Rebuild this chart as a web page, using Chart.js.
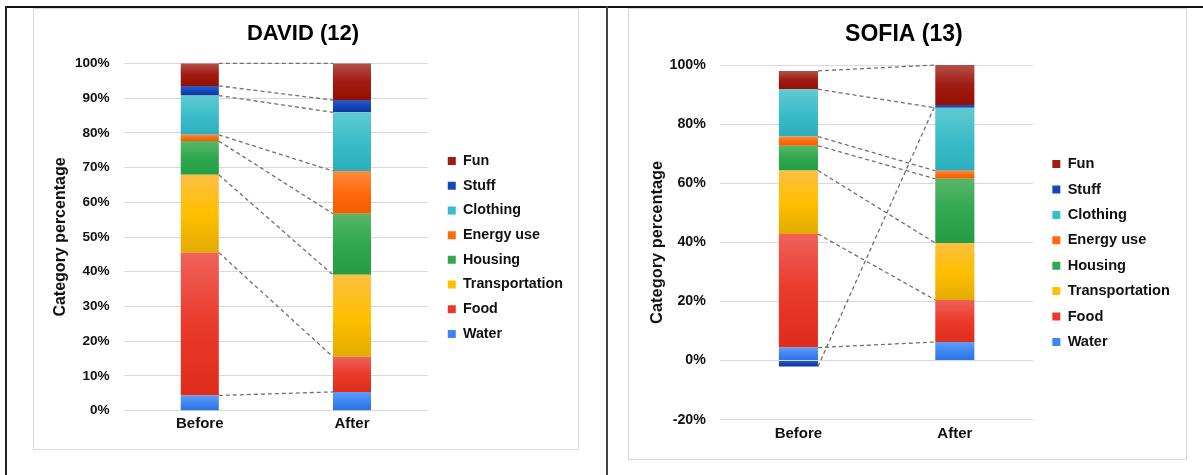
<!DOCTYPE html>
<html>
<head>
<meta charset="utf-8">
<script src="https://cdn.jsdelivr.net/npm/chart.js@4.4.1/dist/chart.umd.min.js"></script>
<style>
  html, body { margin: 0; padding: 0; background: #fff; overflow: hidden; width: 1203px; height: 475px; }
  .line { position: absolute; }
  .box { position: absolute; border: 1px solid #d9d9d9; box-sizing: border-box; }
  canvas { position: absolute; }
</style>
</head>
<body>
<div class="line" style="left:5px;top:6px;width:1198px;height:2px;background:#111;"></div>
<div class="line" style="left:5px;top:6px;width:2px;height:469px;background:#222;"></div>
<div class="line" style="left:606px;top:6px;width:2px;height:469px;background:#444;"></div>
<div class="box" style="left:33px;top:8px;width:546px;height:442px;"></div>
<div class="box" style="left:628px;top:8px;width:559px;height:452px;"></div>
<canvas id="david" width="545" height="479" style="left:33px;top:8px;"></canvas>
<canvas id="sofia" width="558" height="490" style="left:628px;top:8px;"></canvas>
<script>
// Spending categories, bottom of the stack first
const seriesNames = ['Water', 'Food', 'Transportation', 'Housing', 'Energy use', 'Clothing', 'Stuff', 'Fun'];
const categories = ['Before', 'After'];

// Category percentages, in the order of seriesNames
const davidBefore = [4.4, 41.1, 22.4, 9.7, 1.8, 11.3, 2.8, 6.5];
const davidAfter  = [5.4, 10.1, 23.6, 17.6, 12.3, 16.9, 3.5, 10.6];
const sofiaBefore = [4.4, 38.4, 21.5, 8.4, 3.1, 16.0, -2.0, 6.2];
const sofiaAfter  = [6.3, 14.2, 19.3, 21.7, 2.7, 21.3, 1.0, 13.5];

// Value axis ranges
const davidAxis = { min: 0, max: 100, step: 10 };
const sofiaAxis = { min: -20, max: 100, step: 20 };

// Fill shades per series: lighter top, base, darker bottom
const shades = [
  ['#5e9ef6', '#3f86f0', '#2c70e3'],
  ['#ef625a', '#ea3a2b', '#df2c1c'],
  ['#fcbf42', '#ffc000', '#e4ab00'],
  ['#58b66a', '#2fa84f', '#249c43'],
  ['#fb8c3e', '#ff6a0c', '#f05e00'],
  ['#60c9d1', '#3bbdc9', '#2badbc'],
  ['#2a5ccc', '#1746b6', '#0a36a0'],
  ['#b4504a', '#a01b12', '#951000']
];

const FONT = '"Liberation Sans", Arial, sans-serif';
const TEXT = '#111';

function segmentRange(cols, di, i) {
  const v = cols[i][di];
  let start = 0;
  for (let k = 0; k < di; k++) {
    const w = cols[i][k];
    if ((w < 0) === (v < 0)) start += w;
  }
  return [start, start + v];
}

function fillFor(cols, di) {
  const s = shades[di];
  return (c) => {
    if (c.type !== 'data') return s[1];
    const y = c.chart.scales.y;
    if (!y) return s[1];
    const [a, b] = segmentRange(cols, di, c.dataIndex);
    const top = y.getPixelForValue(Math.max(a, b));
    const bot = y.getPixelForValue(Math.min(a, b));
    if (!isFinite(top) || !isFinite(bot) || bot - top < 0.5) return s[1];
    const g = c.chart.ctx.createLinearGradient(0, top, 0, bot);
    g.addColorStop(0, s[0]);
    g.addColorStop(0.5, s[1]);
    g.addColorStop(1, s[2]);
    return g;
  };
}

// Dashed connectors between the ends of each series' segments
const seriesLines = {
  id: 'seriesLines',
  afterDatasetsDraw(chart) {
    const ctx = chart.ctx;
    ctx.save();
    ctx.strokeStyle = '#707070';
    ctx.lineWidth = 1.3;
    ctx.setLineDash([4, 3]);
    chart.data.datasets.forEach((ds, di) => {
      const meta = chart.getDatasetMeta(di);
      const a = meta.data[0], b = meta.data[1];
      if (!a || !b) return;
      ctx.beginPath();
      ctx.moveTo(a.x + a.width / 2, a.y);
      ctx.lineTo(b.x - b.width / 2, b.y);
      ctx.stroke();
    });
    ctx.restore();
  }
};

function makeChart(id, title, before, after, axis, g) {
  const cols = [before, after];
  const datasets = seriesNames.map((name, di) => ({
    label: name,
    data: cols.map(c => c[di]),
    backgroundColor: fillFor(cols, di),
    borderWidth: 0,
    yAxisID: 'y',
    barPercentage: 0.5,
    categoryPercentage: 0.5
  }));
  return new Chart(document.getElementById(id), {
    type: 'bar',
    data: { labels: categories, datasets },
    options: {
      responsive: false,
      devicePixelRatio: 1,
      animation: false,
      layout: { padding: { left: 0, top: 0, bottom: 0, right: g.padRight } },
      plugins: {
        title: {
          display: true, text: title, color: '#000',
          font: { family: FONT, size: g.titleSize, weight: 'bold' },
          padding: { top: g.titleTop, bottom: g.titleBottom }
        },
        legend: {
          position: 'right',
          reverse: true,
          maxWidth: 220,
          labels: {
            color: TEXT,
            font: { family: FONT, size: g.legendSize, weight: 'bold' },
            boxWidth: 8, boxHeight: 8,
            padding: g.legendPad,
            generateLabels(chart) {
              const items = Chart.defaults.plugins.legend.labels.generateLabels(chart);
              items.forEach(it => { it.fillStyle = shades[it.datasetIndex][1]; it.lineWidth = 0; it.strokeStyle = 'transparent'; });
              return items;
            }
          }
        },
        tooltip: { enabled: false }
      },
      scales: {
        x: {
          stacked: true,
          grid: { display: false, drawTicks: false },
          border: { display: false },
          ticks: { color: TEXT, font: { family: FONT, size: 15, weight: 'bold' }, padding: g.xPad },
          afterFit(s) { s.height = g.xHeight; }
        },
        y: {
          stacked: true,
          min: axis.min, max: axis.max,
          grid: { color: '#d9d9d9', lineWidth: 1, drawTicks: false },
          border: { display: false },
          ticks: {
            stepSize: axis.step, color: TEXT, padding: g.yPad,
            font: { family: FONT, size: g.tickSize, weight: 'bold' },
            callback: v => v + '%'
          },
          title: {
            display: true, text: 'Category percentage', color: TEXT,
            font: { family: FONT, size: g.axisTitleSize, weight: 'bold' },
            padding: { top: g.axisTitlePad, bottom: 0 }
          },
          afterFit(s) { s.width = g.yWidth; }
        },
        gap: {
          position: 'right', display: true,
          grid: { display: false, drawTicks: false },
          border: { display: false },
          ticks: { display: false },
          afterFit(s) { s.width = g.gap; }
        }
      }
    },
    plugins: [seriesLines]
  });
}

makeChart('david', 'DAVID (12)', davidBefore, davidAfter, davidAxis, {
  padRight: 5, titleSize: 22, titleTop: 13.1, titleBottom: 15.8,
  legendSize: 14.3, legendPad: 10.4, xPad: 3.8, xHeight: 76.3,
  yPad: 14, tickSize: 13.6, axisTitleSize: 16, axisTitlePad: 18, yWidth: 90.7, gap: 9.3
});

makeChart('sofia', 'SOFIA (13)', sofiaBefore, sofiaAfter, sofiaAxis, {
  padRight: 6.2, titleSize: 23, titleTop: 12.5, titleBottom: 16.9,
  legendSize: 14.6, legendPad: 10.8, xPad: 5.1, xHeight: 78.3,
  yPad: 14.4, tickSize: 14.2, axisTitleSize: 16.4, axisTitlePad: 19.6, yWidth: 92.2, gap: 8.5
});
</script>
</body>
</html>
